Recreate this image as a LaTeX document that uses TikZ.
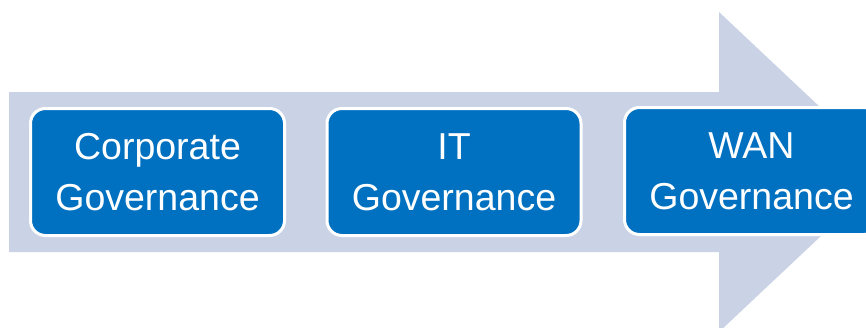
\documentclass[tikz,border=0pt]{standalone}
\usepackage{fontspec}
\setmainfont{Liberation Sans}
\definecolor{arrowgrey}{HTML}{CAD3E6}
\definecolor{boxblue}{HTML}{0070C0}
\tikzset{govbox/.style={draw=white, line width=3pt, fill=boxblue, rounded corners=15pt,
	minimum width=254pt, minimum height=127pt, text=white, align=center,
	font=\fontsize{37.5}{51}\selectfont}}
\begin{document}
\begin{tikzpicture}[x=1pt, y=-1pt]
	\useasboundingbox (0,0) rectangle (866,327);
	\clip (0,0) rectangle (866,327);
	% big arrow behind the boxes
	\fill[arrowgrey] (9,92) -- (719,92) -- (719,12) -- (889,172) -- (719,332) -- (719,252) -- (9,252) -- cycle;
	\node[govbox] (corp) at (157.5,172) {Corporate\\Governance};
	\node[govbox] (it) at (454,172) {IT\\Governance};
	\node[govbox] (wan) at (751.5,171) {WAN\\Governance};
\end{tikzpicture}
\end{document}
